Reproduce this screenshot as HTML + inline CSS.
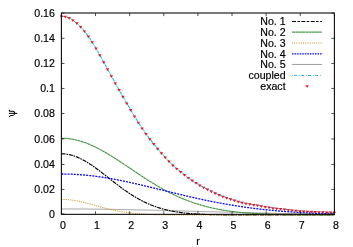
<!DOCTYPE html><html><head><meta charset="utf-8"><style>html,body{margin:0;padding:0;background:#fff}svg{display:block}text{font-family:"Liberation Sans",sans-serif;font-size:10.6px;fill:#000;stroke:#000;stroke-width:0.18px}svg{will-change:transform}</style></head><body>
<svg width="353" height="247" viewBox="0 0 353 247">
<rect width="353" height="247" fill="#fff"/>
<path d="M61.40,208.95 L62.08,208.95 L62.77,208.95 L63.45,208.95 L64.14,208.95 L64.82,208.95 L65.51,208.96 L66.19,208.96 L66.87,208.96 L67.56,208.96 L68.24,208.96 L68.93,208.96 L69.61,208.96 L70.29,208.97 L70.98,208.97 L71.66,208.97 L72.35,208.97 L73.03,208.98 L73.72,208.98 L74.40,208.98 L75.08,208.98 L75.77,208.99 L76.45,208.99 L77.14,208.99 L77.82,209.00 L78.51,209.00 L79.19,209.00 L79.87,209.01 L80.56,209.01 L81.24,209.02 L81.93,209.02 L82.61,209.03 L83.29,209.03 L83.98,209.04 L84.66,209.04 L85.35,209.05 L86.03,209.05 L86.72,209.06 L87.40,209.06 L88.08,209.07 L88.77,209.08 L89.45,209.08 L90.14,209.09 L90.82,209.09 L91.51,209.10 L92.19,209.11 L92.87,209.12 L93.56,209.12 L94.24,209.13 L94.93,209.14 L95.61,209.14 L96.29,209.15 L96.98,209.16 L97.66,209.17 L98.35,209.18 L99.03,209.18 L99.72,209.19 L100.40,209.20 L101.08,209.21 L101.77,209.22 L102.45,209.23 L103.14,209.24 L103.82,209.24 L104.51,209.25 L105.19,209.26 L105.87,209.27 L106.56,209.28 L107.24,209.29 L107.93,209.30 L108.61,209.31 L109.29,209.32 L109.98,209.33 L110.66,209.34 L111.35,209.35 L112.03,209.36 L112.72,209.37 L113.40,209.39 L114.08,209.40 L114.77,209.41 L115.45,209.42 L116.14,209.43 L116.82,209.44 L117.51,209.45 L118.19,209.47 L118.87,209.48 L119.56,209.49 L120.24,209.50 L120.93,209.51 L121.61,209.53 L122.29,209.54 L122.98,209.55 L123.66,209.56 L124.35,209.58 L125.03,209.59 L125.72,209.60 L126.40,209.62 L127.08,209.63 L127.77,209.64 L128.45,209.66 L129.14,209.67 L129.82,209.68 L130.51,209.70 L131.19,209.71 L131.87,209.72 L132.56,209.74 L133.24,209.75 L133.93,209.77 L134.61,209.78 L135.29,209.80 L135.98,209.81 L136.66,209.82 L137.35,209.84 L138.03,209.85 L138.72,209.87 L139.40,209.88 L140.08,209.90 L140.77,209.91 L141.45,209.93 L142.14,209.94 L142.82,209.96 L143.51,209.98 L144.19,209.99 L144.87,210.01 L145.56,210.02 L146.24,210.04 L146.93,210.05 L147.61,210.07 L148.29,210.09 L148.98,210.10 L149.66,210.12 L150.35,210.13 L151.03,210.15 L151.72,210.17 L152.40,210.18 L153.08,210.20 L153.77,210.22 L154.45,210.23 L155.14,210.25 L155.82,210.27 L156.51,210.28 L157.19,210.30 L157.87,210.32 L158.56,210.33 L159.24,210.35 L159.93,210.37 L160.61,210.39 L161.29,210.40 L161.98,210.42 L162.66,210.44 L163.35,210.46 L164.03,210.47 L164.72,210.49 L165.40,210.51 L166.08,210.53 L166.77,210.54 L167.45,210.56 L168.14,210.58 L168.82,210.60 L169.51,210.61 L170.19,210.63 L170.87,210.65 L171.56,210.67 L172.24,210.69 L172.93,210.70 L173.61,210.72 L174.29,210.74 L174.98,210.76 L175.66,210.78 L176.35,210.79 L177.03,210.81 L177.72,210.83 L178.40,210.85 L179.08,210.87 L179.77,210.89 L180.45,210.90 L181.14,210.92 L181.82,210.94 L182.51,210.96 L183.19,210.98 L183.87,211.00 L184.56,211.01 L185.24,211.03 L185.93,211.05 L186.61,211.07 L187.29,211.09 L187.98,211.11 L188.66,211.12 L189.35,211.14 L190.03,211.16 L190.72,211.18 L191.40,211.20 L192.08,211.22 L192.77,211.24 L193.45,211.25 L194.14,211.27 L194.82,211.29 L195.51,211.31 L196.19,211.33 L196.87,211.35 L197.56,211.37 L198.24,211.39 L198.93,211.40 L199.61,211.42 L200.29,211.44 L200.98,211.46 L201.66,211.48 L202.35,211.50 L203.03,211.52 L203.72,211.53 L204.40,211.55 L205.08,211.57 L205.77,211.59 L206.45,211.61 L207.14,211.63 L207.82,211.64 L208.51,211.66 L209.19,211.68 L209.87,211.70 L210.56,211.72 L211.24,211.74 L211.93,211.76 L212.61,211.77 L213.29,211.79 L213.98,211.81 L214.66,211.83 L215.35,211.85 L216.03,211.87 L216.72,211.88 L217.40,211.90 L218.08,211.92 L218.77,211.94 L219.45,211.96 L220.14,211.97 L220.82,211.99 L221.51,212.01 L222.19,212.03 L222.87,212.05 L223.56,212.06 L224.24,212.08 L224.93,212.10 L225.61,212.12 L226.29,212.14 L226.98,212.15 L227.66,212.17 L228.35,212.19 L229.03,212.21 L229.72,212.22 L230.40,212.24 L231.08,212.26 L231.77,212.28 L232.45,212.29 L233.14,212.31 L233.82,212.33 L234.51,212.35 L235.19,212.36 L235.87,212.38 L236.56,212.40 L237.24,212.41 L237.93,212.43 L238.61,212.45 L239.29,212.47 L239.98,212.48 L240.66,212.50 L241.35,212.52 L242.03,212.53 L242.72,212.55 L243.40,212.57 L244.08,212.58 L244.77,212.60 L245.45,212.62 L246.14,212.63 L246.82,212.65 L247.51,212.67 L248.19,212.68 L248.87,212.70 L249.56,212.71 L250.24,212.73 L250.93,212.75 L251.61,212.76 L252.29,212.78 L252.98,212.79 L253.66,212.81 L254.35,212.83 L255.03,212.84 L255.72,212.86 L256.40,212.87 L257.08,212.89 L257.77,212.90 L258.45,212.92 L259.14,212.93 L259.82,212.95 L260.51,212.97 L261.19,212.98 L261.87,213.00 L262.56,213.01 L263.24,213.03 L263.93,213.04 L264.61,213.06 L265.29,213.07 L265.98,213.09 L266.66,213.10 L267.35,213.11 L268.03,213.13 L268.72,213.14 L269.40,213.16 L270.08,213.17 L270.77,213.19 L271.45,213.20 L272.14,213.22 L272.82,213.23 L273.51,213.24 L274.19,213.26 L274.87,213.27 L275.56,213.29 L276.24,213.30 L276.93,213.31 L277.61,213.33 L278.29,213.34 L278.98,213.35 L279.66,213.37 L280.35,213.38 L281.03,213.39 L281.72,213.41 L282.40,213.42 L283.08,213.43 L283.77,213.45 L284.45,213.46 L285.14,213.47 L285.82,213.48 L286.51,213.50 L287.19,213.51 L287.87,213.52 L288.56,213.54 L289.24,213.55 L289.93,213.56 L290.61,213.57 L291.29,213.58 L291.98,213.60 L292.66,213.61 L293.35,213.62 L294.03,213.63 L294.72,213.65 L295.40,213.66 L296.08,213.67 L296.77,213.68 L297.45,213.69 L298.14,213.70 L298.82,213.72 L299.51,213.73 L300.19,213.74 L300.87,213.75 L301.56,213.76 L302.24,213.77 L302.93,213.78 L303.61,213.79 L304.29,213.80 L304.98,213.82 L305.66,213.83 L306.35,213.84 L307.03,213.85 L307.72,213.86 L308.40,213.87 L309.08,213.88 L309.77,213.89 L310.45,213.90 L311.14,213.91 L311.82,213.92 L312.51,213.93 L313.19,213.94 L313.87,213.95 L314.56,213.96 L315.24,213.97 L315.93,213.98 L316.61,213.99 L317.29,214.00 L317.98,214.01 L318.66,214.02 L319.35,214.03 L320.03,214.04 L320.72,214.05 L321.40,214.06 L322.08,214.07 L322.77,214.07 L323.45,214.08 L324.14,214.09 L324.82,214.10 L325.51,214.11 L326.19,214.12 L326.87,214.13 L327.56,214.14 L328.24,214.15 L328.93,214.15 L329.61,214.16 L330.29,214.17 L330.98,214.18 L331.66,214.19 L332.35,214.20 L333.03,214.20 L333.72,214.21 L334.40,214.22" fill="none" stroke="#8c8c8c" stroke-width="0.85" />
<path d="M61.40,153.79 L62.08,153.80 L62.77,153.82 L63.45,153.85 L64.14,153.90 L64.82,153.95 L65.51,154.03 L66.19,154.11 L66.87,154.21 L67.56,154.31 L68.24,154.44 L68.93,154.57 L69.61,154.72 L70.29,154.87 L70.98,155.04 L71.66,155.23 L72.35,155.42 L73.03,155.63 L73.72,155.85 L74.40,156.08 L75.08,156.32 L75.77,156.57 L76.45,156.84 L77.14,157.11 L77.82,157.40 L78.51,157.69 L79.19,158.00 L79.87,158.32 L80.56,158.65 L81.24,158.98 L81.93,159.33 L82.61,159.69 L83.29,160.05 L83.98,160.43 L84.66,160.81 L85.35,161.20 L86.03,161.60 L86.72,162.01 L87.40,162.43 L88.08,162.85 L88.77,163.29 L89.45,163.73 L90.14,164.17 L90.82,164.62 L91.51,165.08 L92.19,165.55 L92.87,166.02 L93.56,166.50 L94.24,166.98 L94.93,167.47 L95.61,167.96 L96.29,168.46 L96.98,168.96 L97.66,169.47 L98.35,169.98 L99.03,170.49 L99.72,171.01 L100.40,171.53 L101.08,172.05 L101.77,172.58 L102.45,173.11 L103.14,173.64 L103.82,174.17 L104.51,174.71 L105.19,175.24 L105.87,175.78 L106.56,176.32 L107.24,176.85 L107.93,177.39 L108.61,177.93 L109.29,178.47 L109.98,179.01 L110.66,179.55 L111.35,180.08 L112.03,180.62 L112.72,181.16 L113.40,181.69 L114.08,182.22 L114.77,182.75 L115.45,183.28 L116.14,183.81 L116.82,184.33 L117.51,184.85 L118.19,185.37 L118.87,185.89 L119.56,186.40 L120.24,186.91 L120.93,187.42 L121.61,187.93 L122.29,188.43 L122.98,188.92 L123.66,189.41 L124.35,189.90 L125.03,190.39 L125.72,190.87 L126.40,191.34 L127.08,191.81 L127.77,192.28 L128.45,192.74 L129.14,193.20 L129.82,193.65 L130.51,194.10 L131.19,194.54 L131.87,194.98 L132.56,195.41 L133.24,195.84 L133.93,196.26 L134.61,196.67 L135.29,197.08 L135.98,197.49 L136.66,197.89 L137.35,198.28 L138.03,198.67 L138.72,199.05 L139.40,199.43 L140.08,199.80 L140.77,200.17 L141.45,200.52 L142.14,200.88 L142.82,201.23 L143.51,201.57 L144.19,201.91 L144.87,202.24 L145.56,202.56 L146.24,202.88 L146.93,203.19 L147.61,203.50 L148.29,203.81 L148.98,204.10 L149.66,204.39 L150.35,204.68 L151.03,204.96 L151.72,205.23 L152.40,205.50 L153.08,205.76 L153.77,206.02 L154.45,206.28 L155.14,206.52 L155.82,206.76 L156.51,207.00 L157.19,207.23 L157.87,207.46 L158.56,207.68 L159.24,207.90 L159.93,208.11 L160.61,208.32 L161.29,208.52 L161.98,208.71 L162.66,208.91 L163.35,209.09 L164.03,209.28 L164.72,209.46 L165.40,209.63 L166.08,209.80 L166.77,209.97 L167.45,210.13 L168.14,210.28 L168.82,210.44 L169.51,210.59 L170.19,210.73 L170.87,210.87 L171.56,211.01 L172.24,211.14 L172.93,211.27 L173.61,211.40 L174.29,211.52 L174.98,211.64 L175.66,211.76 L176.35,211.87 L177.03,211.98 L177.72,212.08 L178.40,212.19 L179.08,212.29 L179.77,212.38 L180.45,212.48 L181.14,212.57 L181.82,212.66 L182.51,212.74 L183.19,212.82 L183.87,212.91 L184.56,212.98 L185.24,213.06 L185.93,213.13 L186.61,213.20 L187.29,213.27 L187.98,213.34 L188.66,213.40 L189.35,213.46 L190.03,213.52 L190.72,213.58 L191.40,213.63 L192.08,213.69 L192.77,213.74 L193.45,213.79 L194.14,213.84 L194.82,213.88 L195.51,213.93 L196.19,213.97 L196.87,214.01 L197.56,214.06 L198.24,214.09 L198.93,214.13 L199.61,214.17 L200.29,214.20 L200.98,214.24 L201.66,214.27 L202.35,214.30 L203.03,214.33 L203.72,214.36 L204.40,214.39 L205.08,214.41 L205.77,214.44 L206.45,214.46 L207.14,214.49 L207.82,214.51 L208.51,214.53 L209.19,214.55 L209.87,214.57 L210.56,214.59 L211.24,214.61 L211.93,214.63 L212.61,214.64 L213.29,214.66 L213.98,214.67 L214.66,214.69 L215.35,214.70 L216.03,214.72 L216.72,214.73 L217.40,214.74 L218.08,214.76 L218.77,214.77 L219.45,214.78 L220.14,214.79 L220.82,214.80 L221.51,214.81 L222.19,214.82 L222.87,214.83 L223.56,214.83 L224.24,214.84 L224.93,214.85 L225.61,214.86 L226.29,214.87 L226.98,214.87 L227.66,214.88 L228.35,214.88 L229.03,214.89 L229.72,214.90 L230.40,214.90 L231.08,214.91 L231.77,214.91 L232.45,214.92 L233.14,214.92 L233.82,214.92 L234.51,214.93 L235.19,214.93 L235.87,214.94 L236.56,214.94 L237.24,214.94 L237.93,214.94 L238.61,214.95 L239.29,214.95 L239.98,214.95 L240.66,214.96 L241.35,214.96 L242.03,214.96 L242.72,214.96 L243.40,214.96 L244.08,214.97 L244.77,214.97 L245.45,214.97 L246.14,214.97 L246.82,214.97 L247.51,214.97 L248.19,214.98 L248.87,214.98 L249.56,214.98 L250.24,214.98 L250.93,214.98 L251.61,214.98 L252.29,214.98 L252.98,214.98 L253.66,214.99 L254.35,214.99 L255.03,214.99 L255.72,214.99 L256.40,214.99 L257.08,214.99 L257.77,214.99 L258.45,214.99 L259.14,214.99 L259.82,214.99 L260.51,214.99 L261.19,214.99 L261.87,214.99 L262.56,214.99 L263.24,214.99 L263.93,214.99 L264.61,214.99 L265.29,214.99 L265.98,215.00 L266.66,215.00 L267.35,215.00 L268.03,215.00 L268.72,215.00 L269.40,215.00 L270.08,215.00 L270.77,215.00 L271.45,215.00 L272.14,215.00 L272.82,215.00 L273.51,215.00 L274.19,215.00 L274.87,215.00 L275.56,215.00 L276.24,215.00 L276.93,215.00 L277.61,215.00 L278.29,215.00 L278.98,215.00 L279.66,215.00 L280.35,215.00 L281.03,215.00 L281.72,215.00 L282.40,215.00 L283.08,215.00 L283.77,215.00 L284.45,215.00 L285.14,215.00 L285.82,215.00 L286.51,215.00 L287.19,215.00 L287.87,215.00 L288.56,215.00 L289.24,215.00 L289.93,215.00 L290.61,215.00 L291.29,215.00 L291.98,215.00 L292.66,215.00 L293.35,215.00 L294.03,215.00 L294.72,215.00 L295.40,215.00 L296.08,215.00 L296.77,215.00 L297.45,215.00 L298.14,215.00 L298.82,215.00 L299.51,215.00 L300.19,215.00 L300.87,215.00 L301.56,215.00 L302.24,215.00 L302.93,215.00 L303.61,215.00 L304.29,215.00 L304.98,215.00 L305.66,215.00 L306.35,215.00 L307.03,215.00 L307.72,215.00 L308.40,215.00 L309.08,215.00 L309.77,215.00 L310.45,215.00 L311.14,215.00 L311.82,215.00 L312.51,215.00 L313.19,215.00 L313.87,215.00 L314.56,215.00 L315.24,215.00 L315.93,215.00 L316.61,215.00 L317.29,215.00 L317.98,215.00 L318.66,215.00 L319.35,215.00 L320.03,215.00 L320.72,215.00 L321.40,215.00 L322.08,215.00 L322.77,215.00 L323.45,215.00 L324.14,215.00 L324.82,215.00 L325.51,215.00 L326.19,215.00 L326.87,215.00 L327.56,215.00 L328.24,215.00 L328.93,215.00 L329.61,215.00 L330.29,215.00 L330.98,215.00 L331.66,215.00 L332.35,215.00 L333.03,215.00 L333.72,215.00 L334.40,215.00" fill="none" stroke="#000000" stroke-width="1.15" stroke-dasharray="4.2,0.8,1.6,0.8"/>
<path d="M61.40,138.30 L62.08,138.31 L62.77,138.32 L63.45,138.34 L64.14,138.36 L64.82,138.40 L65.51,138.44 L66.19,138.49 L66.87,138.54 L67.56,138.61 L68.24,138.68 L68.93,138.76 L69.61,138.85 L70.29,138.94 L70.98,139.04 L71.66,139.15 L72.35,139.26 L73.03,139.39 L73.72,139.52 L74.40,139.65 L75.08,139.80 L75.77,139.95 L76.45,140.11 L77.14,140.28 L77.82,140.45 L78.51,140.63 L79.19,140.81 L79.87,141.01 L80.56,141.21 L81.24,141.41 L81.93,141.63 L82.61,141.85 L83.29,142.07 L83.98,142.31 L84.66,142.55 L85.35,142.79 L86.03,143.05 L86.72,143.30 L87.40,143.57 L88.08,143.84 L88.77,144.11 L89.45,144.40 L90.14,144.68 L90.82,144.98 L91.51,145.28 L92.19,145.58 L92.87,145.89 L93.56,146.21 L94.24,146.53 L94.93,146.86 L95.61,147.19 L96.29,147.52 L96.98,147.87 L97.66,148.21 L98.35,148.56 L99.03,148.92 L99.72,149.28 L100.40,149.64 L101.08,150.01 L101.77,150.39 L102.45,150.76 L103.14,151.14 L103.82,151.53 L104.51,151.92 L105.19,152.31 L105.87,152.71 L106.56,153.11 L107.24,153.51 L107.93,153.92 L108.61,154.33 L109.29,154.75 L109.98,155.16 L110.66,155.58 L111.35,156.01 L112.03,156.43 L112.72,156.86 L113.40,157.29 L114.08,157.72 L114.77,158.16 L115.45,158.60 L116.14,159.04 L116.82,159.48 L117.51,159.92 L118.19,160.37 L118.87,160.82 L119.56,161.27 L120.24,161.72 L120.93,162.17 L121.61,162.62 L122.29,163.08 L122.98,163.53 L123.66,163.99 L124.35,164.45 L125.03,164.90 L125.72,165.36 L126.40,165.82 L127.08,166.28 L127.77,166.74 L128.45,167.21 L129.14,167.67 L129.82,168.13 L130.51,168.59 L131.19,169.05 L131.87,169.51 L132.56,169.98 L133.24,170.44 L133.93,170.90 L134.61,171.36 L135.29,171.82 L135.98,172.28 L136.66,172.73 L137.35,173.19 L138.03,173.65 L138.72,174.10 L139.40,174.56 L140.08,175.01 L140.77,175.46 L141.45,175.92 L142.14,176.36 L142.82,176.81 L143.51,177.26 L144.19,177.71 L144.87,178.15 L145.56,178.59 L146.24,179.03 L146.93,179.47 L147.61,179.91 L148.29,180.34 L148.98,180.77 L149.66,181.20 L150.35,181.63 L151.03,182.06 L151.72,182.48 L152.40,182.90 L153.08,183.32 L153.77,183.74 L154.45,184.15 L155.14,184.57 L155.82,184.98 L156.51,185.38 L157.19,185.79 L157.87,186.19 L158.56,186.59 L159.24,186.98 L159.93,187.38 L160.61,187.77 L161.29,188.15 L161.98,188.54 L162.66,188.92 L163.35,189.30 L164.03,189.67 L164.72,190.05 L165.40,190.42 L166.08,190.78 L166.77,191.15 L167.45,191.51 L168.14,191.86 L168.82,192.22 L169.51,192.57 L170.19,192.92 L170.87,193.26 L171.56,193.60 L172.24,193.94 L172.93,194.27 L173.61,194.60 L174.29,194.93 L174.98,195.26 L175.66,195.58 L176.35,195.90 L177.03,196.21 L177.72,196.52 L178.40,196.83 L179.08,197.13 L179.77,197.43 L180.45,197.73 L181.14,198.03 L181.82,198.32 L182.51,198.60 L183.19,198.89 L183.87,199.17 L184.56,199.45 L185.24,199.72 L185.93,199.99 L186.61,200.26 L187.29,200.52 L187.98,200.78 L188.66,201.04 L189.35,201.29 L190.03,201.55 L190.72,201.79 L191.40,202.04 L192.08,202.28 L192.77,202.52 L193.45,202.75 L194.14,202.98 L194.82,203.21 L195.51,203.43 L196.19,203.66 L196.87,203.87 L197.56,204.09 L198.24,204.30 L198.93,204.51 L199.61,204.72 L200.29,204.92 L200.98,205.12 L201.66,205.32 L202.35,205.51 L203.03,205.70 L203.72,205.89 L204.40,206.08 L205.08,206.26 L205.77,206.44 L206.45,206.61 L207.14,206.79 L207.82,206.96 L208.51,207.13 L209.19,207.29 L209.87,207.45 L210.56,207.61 L211.24,207.77 L211.93,207.93 L212.61,208.08 L213.29,208.23 L213.98,208.37 L214.66,208.52 L215.35,208.66 L216.03,208.80 L216.72,208.94 L217.40,209.07 L218.08,209.20 L218.77,209.33 L219.45,209.46 L220.14,209.58 L220.82,209.71 L221.51,209.83 L222.19,209.95 L222.87,210.06 L223.56,210.18 L224.24,210.29 L224.93,210.40 L225.61,210.50 L226.29,210.61 L226.98,210.71 L227.66,210.81 L228.35,210.91 L229.03,211.01 L229.72,211.10 L230.40,211.20 L231.08,211.29 L231.77,211.38 L232.45,211.47 L233.14,211.55 L233.82,211.64 L234.51,211.72 L235.19,211.80 L235.87,211.88 L236.56,211.96 L237.24,212.03 L237.93,212.11 L238.61,212.18 L239.29,212.25 L239.98,212.32 L240.66,212.39 L241.35,212.46 L242.03,212.52 L242.72,212.59 L243.40,212.65 L244.08,212.71 L244.77,212.77 L245.45,212.83 L246.14,212.88 L246.82,212.94 L247.51,212.99 L248.19,213.05 L248.87,213.10 L249.56,213.15 L250.24,213.20 L250.93,213.25 L251.61,213.29 L252.29,213.34 L252.98,213.39 L253.66,213.43 L254.35,213.47 L255.03,213.51 L255.72,213.56 L256.40,213.60 L257.08,213.63 L257.77,213.67 L258.45,213.71 L259.14,213.75 L259.82,213.78 L260.51,213.82 L261.19,213.85 L261.87,213.88 L262.56,213.91 L263.24,213.94 L263.93,213.97 L264.61,214.00 L265.29,214.03 L265.98,214.06 L266.66,214.09 L267.35,214.11 L268.03,214.14 L268.72,214.17 L269.40,214.19 L270.08,214.21 L270.77,214.24 L271.45,214.26 L272.14,214.28 L272.82,214.30 L273.51,214.32 L274.19,214.35 L274.87,214.36 L275.56,214.38 L276.24,214.40 L276.93,214.42 L277.61,214.44 L278.29,214.46 L278.98,214.47 L279.66,214.49 L280.35,214.50 L281.03,214.52 L281.72,214.54 L282.40,214.55 L283.08,214.56 L283.77,214.58 L284.45,214.59 L285.14,214.60 L285.82,214.62 L286.51,214.63 L287.19,214.64 L287.87,214.65 L288.56,214.66 L289.24,214.67 L289.93,214.68 L290.61,214.69 L291.29,214.70 L291.98,214.71 L292.66,214.72 L293.35,214.73 L294.03,214.74 L294.72,214.75 L295.40,214.76 L296.08,214.77 L296.77,214.77 L297.45,214.78 L298.14,214.79 L298.82,214.80 L299.51,214.80 L300.19,214.81 L300.87,214.82 L301.56,214.82 L302.24,214.83 L302.93,214.83 L303.61,214.84 L304.29,214.85 L304.98,214.85 L305.66,214.86 L306.35,214.86 L307.03,214.87 L307.72,214.87 L308.40,214.87 L309.08,214.88 L309.77,214.88 L310.45,214.89 L311.14,214.89 L311.82,214.90 L312.51,214.90 L313.19,214.90 L313.87,214.91 L314.56,214.91 L315.24,214.91 L315.93,214.92 L316.61,214.92 L317.29,214.92 L317.98,214.92 L318.66,214.93 L319.35,214.93 L320.03,214.93 L320.72,214.94 L321.40,214.94 L322.08,214.94 L322.77,214.94 L323.45,214.94 L324.14,214.95 L324.82,214.95 L325.51,214.95 L326.19,214.95 L326.87,214.95 L327.56,214.96 L328.24,214.96 L328.93,214.96 L329.61,214.96 L330.29,214.96 L330.98,214.96 L331.66,214.96 L332.35,214.97 L333.03,214.97 L333.72,214.97 L334.40,214.97" fill="none" stroke="#479a47" stroke-width="1.15" stroke-dasharray="3,0.3"/>
<path d="M61.40,199.40 L62.08,199.40 L62.77,199.41 L63.45,199.42 L64.14,199.45 L64.82,199.47 L65.51,199.51 L66.19,199.55 L66.87,199.59 L67.56,199.65 L68.24,199.71 L68.93,199.77 L69.61,199.84 L70.29,199.92 L70.98,200.00 L71.66,200.09 L72.35,200.18 L73.03,200.28 L73.72,200.38 L74.40,200.49 L75.08,200.60 L75.77,200.72 L76.45,200.84 L77.14,200.97 L77.82,201.10 L78.51,201.24 L79.19,201.38 L79.87,201.52 L80.56,201.67 L81.24,201.82 L81.93,201.98 L82.61,202.14 L83.29,202.30 L83.98,202.46 L84.66,202.63 L85.35,202.80 L86.03,202.97 L86.72,203.15 L87.40,203.33 L88.08,203.51 L88.77,203.69 L89.45,203.87 L90.14,204.05 L90.82,204.24 L91.51,204.43 L92.19,204.61 L92.87,204.80 L93.56,204.99 L94.24,205.18 L94.93,205.37 L95.61,205.56 L96.29,205.75 L96.98,205.94 L97.66,206.13 L98.35,206.32 L99.03,206.50 L99.72,206.69 L100.40,206.88 L101.08,207.06 L101.77,207.25 L102.45,207.43 L103.14,207.61 L103.82,207.79 L104.51,207.97 L105.19,208.15 L105.87,208.33 L106.56,208.50 L107.24,208.67 L107.93,208.84 L108.61,209.01 L109.29,209.17 L109.98,209.34 L110.66,209.50 L111.35,209.65 L112.03,209.81 L112.72,209.96 L113.40,210.11 L114.08,210.26 L114.77,210.41 L115.45,210.55 L116.14,210.69 L116.82,210.83 L117.51,210.96 L118.19,211.09 L118.87,211.22 L119.56,211.35 L120.24,211.47 L120.93,211.59 L121.61,211.71 L122.29,211.82 L122.98,211.94 L123.66,212.05 L124.35,212.15 L125.03,212.26 L125.72,212.36 L126.40,212.46 L127.08,212.55 L127.77,212.65 L128.45,212.74 L129.14,212.82 L129.82,212.91 L130.51,212.99 L131.19,213.07 L131.87,213.15 L132.56,213.23 L133.24,213.30 L133.93,213.37 L134.61,213.44 L135.29,213.50 L135.98,213.57 L136.66,213.63 L137.35,213.69 L138.03,213.75 L138.72,213.80 L139.40,213.86 L140.08,213.91 L140.77,213.96 L141.45,214.00 L142.14,214.05 L142.82,214.09 L143.51,214.14 L144.19,214.18 L144.87,214.22 L145.56,214.25 L146.24,214.29 L146.93,214.33 L147.61,214.36 L148.29,214.39 L148.98,214.42 L149.66,214.45 L150.35,214.48 L151.03,214.50 L151.72,214.53 L152.40,214.55 L153.08,214.58 L153.77,214.60 L154.45,214.62 L155.14,214.64 L155.82,214.66 L156.51,214.68 L157.19,214.70 L157.87,214.71 L158.56,214.73 L159.24,214.74 L159.93,214.76 L160.61,214.77 L161.29,214.78 L161.98,214.80 L162.66,214.81 L163.35,214.82 L164.03,214.83 L164.72,214.84 L165.40,214.85 L166.08,214.86 L166.77,214.87 L167.45,214.88 L168.14,214.88 L168.82,214.89 L169.51,214.90 L170.19,214.90 L170.87,214.91 L171.56,214.91 L172.24,214.92 L172.93,214.93 L173.61,214.93 L174.29,214.93 L174.98,214.94 L175.66,214.94 L176.35,214.95 L177.03,214.95 L177.72,214.95 L178.40,214.96 L179.08,214.96 L179.77,214.96 L180.45,214.96 L181.14,214.97 L181.82,214.97 L182.51,214.97 L183.19,214.97 L183.87,214.98 L184.56,214.98 L185.24,214.98 L185.93,214.98 L186.61,214.98 L187.29,214.98 L187.98,214.98 L188.66,214.99 L189.35,214.99 L190.03,214.99 L190.72,214.99 L191.40,214.99 L192.08,214.99 L192.77,214.99 L193.45,214.99 L194.14,214.99 L194.82,214.99 L195.51,214.99 L196.19,214.99 L196.87,214.99 L197.56,214.99 L198.24,214.99 L198.93,215.00 L199.61,215.00 L200.29,215.00 L200.98,215.00 L201.66,215.00 L202.35,215.00 L203.03,215.00 L203.72,215.00 L204.40,215.00 L205.08,215.00 L205.77,215.00 L206.45,215.00 L207.14,215.00 L207.82,215.00 L208.51,215.00 L209.19,215.00 L209.87,215.00 L210.56,215.00 L211.24,215.00 L211.93,215.00 L212.61,215.00 L213.29,215.00 L213.98,215.00 L214.66,215.00 L215.35,215.00 L216.03,215.00 L216.72,215.00 L217.40,215.00 L218.08,215.00 L218.77,215.00 L219.45,215.00 L220.14,215.00 L220.82,215.00 L221.51,215.00 L222.19,215.00 L222.87,215.00 L223.56,215.00 L224.24,215.00 L224.93,215.00 L225.61,215.00 L226.29,215.00 L226.98,215.00 L227.66,215.00 L228.35,215.00 L229.03,215.00 L229.72,215.00 L230.40,215.00 L231.08,215.00 L231.77,215.00 L232.45,215.00 L233.14,215.00 L233.82,215.00 L234.51,215.00 L235.19,215.00 L235.87,215.00 L236.56,215.00 L237.24,215.00 L237.93,215.00 L238.61,215.00 L239.29,215.00 L239.98,215.00 L240.66,215.00 L241.35,215.00 L242.03,215.00 L242.72,215.00 L243.40,215.00 L244.08,215.00 L244.77,215.00 L245.45,215.00 L246.14,215.00 L246.82,215.00 L247.51,215.00 L248.19,215.00 L248.87,215.00 L249.56,215.00 L250.24,215.00 L250.93,215.00 L251.61,215.00 L252.29,215.00 L252.98,215.00 L253.66,215.00 L254.35,215.00 L255.03,215.00 L255.72,215.00 L256.40,215.00 L257.08,215.00 L257.77,215.00 L258.45,215.00 L259.14,215.00 L259.82,215.00 L260.51,215.00 L261.19,215.00 L261.87,215.00 L262.56,215.00 L263.24,215.00 L263.93,215.00 L264.61,215.00 L265.29,215.00 L265.98,215.00 L266.66,215.00 L267.35,215.00 L268.03,215.00 L268.72,215.00 L269.40,215.00 L270.08,215.00 L270.77,215.00 L271.45,215.00 L272.14,215.00 L272.82,215.00 L273.51,215.00 L274.19,215.00 L274.87,215.00 L275.56,215.00 L276.24,215.00 L276.93,215.00 L277.61,215.00 L278.29,215.00 L278.98,215.00 L279.66,215.00 L280.35,215.00 L281.03,215.00 L281.72,215.00 L282.40,215.00 L283.08,215.00 L283.77,215.00 L284.45,215.00 L285.14,215.00 L285.82,215.00 L286.51,215.00 L287.19,215.00 L287.87,215.00 L288.56,215.00 L289.24,215.00 L289.93,215.00 L290.61,215.00 L291.29,215.00 L291.98,215.00 L292.66,215.00 L293.35,215.00 L294.03,215.00 L294.72,215.00 L295.40,215.00 L296.08,215.00 L296.77,215.00 L297.45,215.00 L298.14,215.00 L298.82,215.00 L299.51,215.00 L300.19,215.00 L300.87,215.00 L301.56,215.00 L302.24,215.00 L302.93,215.00 L303.61,215.00 L304.29,215.00 L304.98,215.00 L305.66,215.00 L306.35,215.00 L307.03,215.00 L307.72,215.00 L308.40,215.00 L309.08,215.00 L309.77,215.00 L310.45,215.00 L311.14,215.00 L311.82,215.00 L312.51,215.00 L313.19,215.00 L313.87,215.00 L314.56,215.00 L315.24,215.00 L315.93,215.00 L316.61,215.00 L317.29,215.00 L317.98,215.00 L318.66,215.00 L319.35,215.00 L320.03,215.00 L320.72,215.00 L321.40,215.00 L322.08,215.00 L322.77,215.00 L323.45,215.00 L324.14,215.00 L324.82,215.00 L325.51,215.00 L326.19,215.00 L326.87,215.00 L327.56,215.00 L328.24,215.00 L328.93,215.00 L329.61,215.00 L330.29,215.00 L330.98,215.00 L331.66,215.00 L332.35,215.00 L333.03,215.00 L333.72,215.00 L334.40,215.00" fill="none" stroke="#c9921e" stroke-width="1.05" stroke-dasharray="1.0,1.2"/>
<path d="M61.40,173.99 L62.08,173.99 L62.77,174.00 L63.45,174.00 L64.14,174.01 L64.82,174.02 L65.51,174.03 L66.19,174.04 L66.87,174.05 L67.56,174.07 L68.24,174.09 L68.93,174.11 L69.61,174.13 L70.29,174.15 L70.98,174.18 L71.66,174.21 L72.35,174.23 L73.03,174.27 L73.72,174.30 L74.40,174.33 L75.08,174.37 L75.77,174.41 L76.45,174.45 L77.14,174.49 L77.82,174.53 L78.51,174.58 L79.19,174.63 L79.87,174.68 L80.56,174.73 L81.24,174.78 L81.93,174.83 L82.61,174.89 L83.29,174.95 L83.98,175.01 L84.66,175.07 L85.35,175.13 L86.03,175.20 L86.72,175.26 L87.40,175.33 L88.08,175.40 L88.77,175.48 L89.45,175.55 L90.14,175.62 L90.82,175.70 L91.51,175.78 L92.19,175.86 L92.87,175.94 L93.56,176.02 L94.24,176.11 L94.93,176.20 L95.61,176.28 L96.29,176.37 L96.98,176.47 L97.66,176.56 L98.35,176.65 L99.03,176.75 L99.72,176.85 L100.40,176.95 L101.08,177.05 L101.77,177.15 L102.45,177.25 L103.14,177.36 L103.82,177.46 L104.51,177.57 L105.19,177.68 L105.87,177.79 L106.56,177.90 L107.24,178.02 L107.93,178.13 L108.61,178.25 L109.29,178.36 L109.98,178.48 L110.66,178.60 L111.35,178.72 L112.03,178.85 L112.72,178.97 L113.40,179.09 L114.08,179.22 L114.77,179.35 L115.45,179.48 L116.14,179.61 L116.82,179.74 L117.51,179.87 L118.19,180.00 L118.87,180.14 L119.56,180.27 L120.24,180.41 L120.93,180.54 L121.61,180.68 L122.29,180.82 L122.98,180.96 L123.66,181.10 L124.35,181.25 L125.03,181.39 L125.72,181.53 L126.40,181.68 L127.08,181.82 L127.77,181.97 L128.45,182.12 L129.14,182.27 L129.82,182.42 L130.51,182.57 L131.19,182.72 L131.87,182.87 L132.56,183.02 L133.24,183.18 L133.93,183.33 L134.61,183.49 L135.29,183.64 L135.98,183.80 L136.66,183.95 L137.35,184.11 L138.03,184.27 L138.72,184.43 L139.40,184.59 L140.08,184.75 L140.77,184.91 L141.45,185.07 L142.14,185.23 L142.82,185.39 L143.51,185.55 L144.19,185.72 L144.87,185.88 L145.56,186.04 L146.24,186.21 L146.93,186.37 L147.61,186.54 L148.29,186.70 L148.98,186.87 L149.66,187.03 L150.35,187.20 L151.03,187.36 L151.72,187.53 L152.40,187.70 L153.08,187.87 L153.77,188.03 L154.45,188.20 L155.14,188.37 L155.82,188.54 L156.51,188.70 L157.19,188.87 L157.87,189.04 L158.56,189.21 L159.24,189.38 L159.93,189.55 L160.61,189.71 L161.29,189.88 L161.98,190.05 L162.66,190.22 L163.35,190.39 L164.03,190.56 L164.72,190.73 L165.40,190.89 L166.08,191.06 L166.77,191.23 L167.45,191.40 L168.14,191.57 L168.82,191.74 L169.51,191.90 L170.19,192.07 L170.87,192.24 L171.56,192.41 L172.24,192.57 L172.93,192.74 L173.61,192.91 L174.29,193.07 L174.98,193.24 L175.66,193.41 L176.35,193.57 L177.03,193.74 L177.72,193.90 L178.40,194.07 L179.08,194.23 L179.77,194.40 L180.45,194.56 L181.14,194.72 L181.82,194.89 L182.51,195.05 L183.19,195.21 L183.87,195.37 L184.56,195.53 L185.24,195.69 L185.93,195.86 L186.61,196.02 L187.29,196.17 L187.98,196.33 L188.66,196.49 L189.35,196.65 L190.03,196.81 L190.72,196.96 L191.40,197.12 L192.08,197.28 L192.77,197.43 L193.45,197.59 L194.14,197.74 L194.82,197.90 L195.51,198.05 L196.19,198.20 L196.87,198.35 L197.56,198.50 L198.24,198.65 L198.93,198.80 L199.61,198.95 L200.29,199.10 L200.98,199.25 L201.66,199.40 L202.35,199.55 L203.03,199.69 L203.72,199.84 L204.40,199.98 L205.08,200.13 L205.77,200.27 L206.45,200.41 L207.14,200.55 L207.82,200.69 L208.51,200.83 L209.19,200.97 L209.87,201.11 L210.56,201.25 L211.24,201.39 L211.93,201.53 L212.61,201.66 L213.29,201.80 L213.98,201.93 L214.66,202.07 L215.35,202.20 L216.03,202.33 L216.72,202.46 L217.40,202.59 L218.08,202.72 L218.77,202.85 L219.45,202.98 L220.14,203.11 L220.82,203.23 L221.51,203.36 L222.19,203.48 L222.87,203.61 L223.56,203.73 L224.24,203.85 L224.93,203.97 L225.61,204.10 L226.29,204.22 L226.98,204.33 L227.66,204.45 L228.35,204.57 L229.03,204.69 L229.72,204.80 L230.40,204.92 L231.08,205.03 L231.77,205.14 L232.45,205.26 L233.14,205.37 L233.82,205.48 L234.51,205.59 L235.19,205.70 L235.87,205.81 L236.56,205.91 L237.24,206.02 L237.93,206.13 L238.61,206.23 L239.29,206.34 L239.98,206.44 L240.66,206.54 L241.35,206.64 L242.03,206.74 L242.72,206.84 L243.40,206.94 L244.08,207.04 L244.77,207.14 L245.45,207.23 L246.14,207.33 L246.82,207.42 L247.51,207.52 L248.19,207.61 L248.87,207.70 L249.56,207.80 L250.24,207.89 L250.93,207.98 L251.61,208.06 L252.29,208.15 L252.98,208.24 L253.66,208.33 L254.35,208.41 L255.03,208.50 L255.72,208.58 L256.40,208.67 L257.08,208.75 L257.77,208.83 L258.45,208.91 L259.14,208.99 L259.82,209.07 L260.51,209.15 L261.19,209.23 L261.87,209.30 L262.56,209.38 L263.24,209.46 L263.93,209.53 L264.61,209.61 L265.29,209.68 L265.98,209.75 L266.66,209.82 L267.35,209.89 L268.03,209.96 L268.72,210.03 L269.40,210.10 L270.08,210.17 L270.77,210.24 L271.45,210.31 L272.14,210.37 L272.82,210.44 L273.51,210.50 L274.19,210.56 L274.87,210.63 L275.56,210.69 L276.24,210.75 L276.93,210.81 L277.61,210.87 L278.29,210.93 L278.98,210.99 L279.66,211.05 L280.35,211.11 L281.03,211.16 L281.72,211.22 L282.40,211.28 L283.08,211.33 L283.77,211.39 L284.45,211.44 L285.14,211.49 L285.82,211.54 L286.51,211.60 L287.19,211.65 L287.87,211.70 L288.56,211.75 L289.24,211.80 L289.93,211.85 L290.61,211.89 L291.29,211.94 L291.98,211.99 L292.66,212.04 L293.35,212.08 L294.03,212.13 L294.72,212.17 L295.40,212.22 L296.08,212.26 L296.77,212.30 L297.45,212.34 L298.14,212.39 L298.82,212.43 L299.51,212.47 L300.19,212.51 L300.87,212.55 L301.56,212.59 L302.24,212.63 L302.93,212.66 L303.61,212.70 L304.29,212.74 L304.98,212.78 L305.66,212.81 L306.35,212.85 L307.03,212.88 L307.72,212.92 L308.40,212.95 L309.08,212.99 L309.77,213.02 L310.45,213.05 L311.14,213.08 L311.82,213.12 L312.51,213.15 L313.19,213.18 L313.87,213.21 L314.56,213.24 L315.24,213.27 L315.93,213.30 L316.61,213.33 L317.29,213.36 L317.98,213.38 L318.66,213.41 L319.35,213.44 L320.03,213.47 L320.72,213.49 L321.40,213.52 L322.08,213.54 L322.77,213.57 L323.45,213.59 L324.14,213.62 L324.82,213.64 L325.51,213.67 L326.19,213.69 L326.87,213.71 L327.56,213.74 L328.24,213.76 L328.93,213.78 L329.61,213.80 L330.29,213.82 L330.98,213.85 L331.66,213.87 L332.35,213.89 L333.03,213.91 L333.72,213.93 L334.40,213.95" fill="none" stroke="#0a0aff" stroke-width="1.3" stroke-dasharray="2.0,1.1"/>
<path d="M61.40,16.34 L62.08,16.36 L62.77,16.38 L63.45,16.40 L64.14,16.42 L64.82,16.45 L65.51,16.55 L66.19,16.80 L66.87,17.05 L67.56,17.29 L68.24,17.54 L68.93,17.78 L69.61,18.15 L70.29,18.56 L70.98,18.97 L71.66,19.37 L72.35,19.78 L73.03,20.21 L73.72,20.73 L74.40,21.26 L75.08,21.78 L75.77,22.30 L76.45,22.83 L77.14,23.42 L77.82,24.08 L78.51,24.74 L79.19,25.40 L79.87,26.06 L80.56,26.72 L81.24,27.48 L81.93,28.26 L82.61,29.03 L83.29,29.81 L83.98,30.59 L84.66,31.40 L85.35,32.30 L86.03,33.20 L86.72,34.09 L87.40,34.99 L88.08,35.89 L88.77,36.88 L89.45,37.91 L90.14,38.95 L90.82,39.98 L91.51,41.01 L92.19,42.05 L92.87,43.17 L93.56,44.29 L94.24,45.41 L94.93,46.54 L95.61,47.66 L96.29,48.81 L96.98,50.01 L97.66,51.20 L98.35,52.40 L99.03,53.59 L99.72,54.79 L100.40,56.02 L101.08,57.28 L101.77,58.53 L102.45,59.78 L103.14,61.03 L103.82,62.28 L104.51,63.52 L105.19,64.77 L105.87,66.01 L106.56,67.26 L107.24,68.50 L107.93,69.74 L108.61,70.97 L109.29,72.21 L109.98,73.44 L110.66,74.68 L111.35,75.91 L112.03,77.15 L112.72,78.39 L113.40,79.63 L114.08,80.87 L114.77,82.11 L115.45,83.34 L116.14,84.56 L116.82,85.79 L117.51,87.01 L118.19,88.23 L118.87,89.45 L119.56,90.66 L120.24,91.86 L120.93,93.06 L121.61,94.26 L122.29,95.46 L122.98,96.66 L123.66,97.85 L124.35,99.04 L125.03,100.23 L125.72,101.42 L126.40,102.61 L127.08,103.79 L127.77,104.95 L128.45,106.12 L129.14,107.29 L129.82,108.45 L130.51,109.62 L131.19,110.76 L131.87,111.89 L132.56,113.03 L133.24,114.16 L133.93,115.29 L134.61,116.42 L135.29,117.53 L135.98,118.63 L136.66,119.74 L137.35,120.84 L138.03,121.95 L138.72,123.02 L139.40,124.08 L140.08,125.13 L140.77,126.19 L141.45,127.24 L142.14,128.30 L142.82,129.27 L143.51,130.24 L144.19,131.21 L144.87,132.18 L145.56,133.16 L146.24,134.11 L146.93,135.02 L147.61,135.94 L148.29,136.85 L148.98,137.77 L149.66,138.69 L150.35,139.57 L151.03,140.44 L151.72,141.31 L152.40,142.18 L153.08,143.05 L153.77,143.92 L154.45,144.74 L155.14,145.56 L155.82,146.38 L156.51,147.20 L157.19,148.02 L157.87,148.83 L158.56,149.64 L159.24,150.44 L159.93,151.24 L160.61,152.05 L161.29,152.85 L161.98,153.63 L162.66,154.40 L163.35,155.17 L164.03,155.94 L164.72,156.71 L165.40,157.46 L166.08,158.18 L166.77,158.90 L167.45,159.63 L168.14,160.35 L168.82,161.07 L169.51,161.76 L170.19,162.44 L170.87,163.12 L171.56,163.80 L172.24,164.48 L172.93,165.16 L173.61,165.78 L174.29,166.39 L174.98,167.01 L175.66,167.62 L176.35,168.23 L177.03,168.82 L177.72,169.38 L178.40,169.93 L179.08,170.48 L179.77,171.03 L180.45,171.59 L181.14,172.13 L181.82,172.66 L182.51,173.20 L183.19,173.73 L183.87,174.27 L184.56,174.80 L185.24,175.32 L185.93,175.84 L186.61,176.36 L187.29,176.88 L187.98,177.40 L188.66,177.90 L189.35,178.38 L190.03,178.86 L190.72,179.34 L191.40,179.82 L192.08,180.30 L192.77,180.75 L193.45,181.19 L194.14,181.64 L194.82,182.09 L195.51,182.53 L196.19,182.97 L196.87,183.39 L197.56,183.81 L198.24,184.23 L198.93,184.65 L199.61,185.07 L200.29,185.46 L200.98,185.85 L201.66,186.23 L202.35,186.62 L203.03,187.00 L203.72,187.39 L204.40,187.74 L205.08,188.09 L205.77,188.44 L206.45,188.79 L207.14,189.14 L207.82,189.49 L208.51,189.81 L209.19,190.14 L209.87,190.47 L210.56,190.80 L211.24,191.13 L211.93,191.46 L212.61,191.78 L213.29,192.10 L213.98,192.43 L214.66,192.75 L215.35,193.07 L216.03,193.39 L216.72,193.70 L217.40,194.01 L218.08,194.32 L218.77,194.64 L219.45,194.93 L220.14,195.22 L220.82,195.50 L221.51,195.79 L222.19,196.07 L222.87,196.36 L223.56,196.61 L224.24,196.86 L224.93,197.11 L225.61,197.36 L226.29,197.61 L226.98,197.86 L227.66,198.09 L228.35,198.32 L229.03,198.54 L229.72,198.77 L230.40,199.00 L231.08,199.23 L231.77,199.45 L232.45,199.67 L233.14,199.90 L233.82,200.12 L234.51,200.34 L235.19,200.55 L235.87,200.77 L236.56,200.98 L237.24,201.19 L237.93,201.40 L238.61,201.60 L239.29,201.78 L239.98,201.96 L240.66,202.13 L241.35,202.31 L242.03,202.49 L242.72,202.65 L243.40,202.80 L244.08,202.95 L244.77,203.10 L245.45,203.25 L246.14,203.39 L246.82,203.52 L247.51,203.65 L248.19,203.78 L248.87,203.91 L249.56,204.04 L250.24,204.15 L250.93,204.26 L251.61,204.36 L252.29,204.47 L252.98,204.57 L253.66,204.68 L254.35,204.79 L255.03,204.90 L255.72,205.02 L256.40,205.13 L257.08,205.24 L257.77,205.36 L258.45,205.48 L259.14,205.60 L259.82,205.72 L260.51,205.85 L261.19,205.97 L261.87,206.09 L262.56,206.22 L263.24,206.34 L263.93,206.46 L264.61,206.58 L265.29,206.71 L265.98,206.82 L266.66,206.94 L267.35,207.06 L268.03,207.17 L268.72,207.29 L269.40,207.40 L270.08,207.50 L270.77,207.60 L271.45,207.70 L272.14,207.80 L272.82,207.90 L273.51,207.98 L274.19,208.06 L274.87,208.14 L275.56,208.22 L276.24,208.30 L276.93,208.37 L277.61,208.44 L278.29,208.50 L278.98,208.57 L279.66,208.64 L280.35,208.71 L281.03,208.78 L281.72,208.85 L282.40,208.92 L283.08,208.99 L283.77,209.07 L284.45,209.14 L285.14,209.22 L285.82,209.31 L286.51,209.39 L287.19,209.47 L287.87,209.56 L288.56,209.64 L289.24,209.73 L289.93,209.82 L290.61,209.91 L291.29,210.00 L291.98,210.09 L292.66,210.17 L293.35,210.25 L294.03,210.33 L294.72,210.41 L295.40,210.48 L296.08,210.56 L296.77,210.61 L297.45,210.67 L298.14,210.72 L298.82,210.78 L299.51,210.84 L300.19,210.89 L300.87,210.93 L301.56,210.98 L302.24,211.02 L302.93,211.06 L303.61,211.11 L304.29,211.15 L304.98,211.20 L305.66,211.24 L306.35,211.29 L307.03,211.33 L307.72,211.38 L308.40,211.41 L309.08,211.45 L309.77,211.49 L310.45,211.53 L311.14,211.57 L311.82,211.60 L312.51,211.63 L313.19,211.66 L313.87,211.69 L314.56,211.71 L315.24,211.74 L315.93,211.76 L316.61,211.79 L317.29,211.81 L317.98,211.83 L318.66,211.85 L319.35,211.87 L320.03,211.90 L320.72,211.92 L321.40,211.94 L322.08,211.96 L322.77,211.99 L323.45,212.01 L324.14,212.04 L324.82,212.07 L325.51,212.10 L326.19,212.13 L326.87,212.15 L327.56,212.18 L328.24,212.21 L328.93,212.24 L329.61,212.26 L330.29,212.29 L330.98,212.31 L331.66,212.32 L332.35,212.33 L333.03,212.34 L333.72,212.36 L334.40,212.37" fill="none" stroke="#14b4ff" stroke-width="1.05" stroke-dasharray="3.2,0.6,0.8,0.6"/>
<path d="M59.70,15.61 h3.4 l-1.7,2.7 z" fill="#ff1010"/>
<path d="M63.55,15.74 h3.4 l-1.7,2.7 z" fill="#ff1010"/>
<path d="M67.39,17.12 h3.4 l-1.7,2.7 z" fill="#ff1010"/>
<path d="M71.24,19.41 h3.4 l-1.7,2.7 z" fill="#ff1010"/>
<path d="M75.08,22.36 h3.4 l-1.7,2.7 z" fill="#ff1010"/>
<path d="M78.93,26.06 h3.4 l-1.7,2.7 z" fill="#ff1010"/>
<path d="M82.77,30.42 h3.4 l-1.7,2.7 z" fill="#ff1010"/>
<path d="M86.62,35.47 h3.4 l-1.7,2.7 z" fill="#ff1010"/>
<path d="M90.46,41.28 h3.4 l-1.7,2.7 z" fill="#ff1010"/>
<path d="M94.31,47.59 h3.4 l-1.7,2.7 z" fill="#ff1010"/>
<path d="M98.15,54.30 h3.4 l-1.7,2.7 z" fill="#ff1010"/>
<path d="M102.00,61.33 h3.4 l-1.7,2.7 z" fill="#ff1010"/>
<path d="M105.84,68.32 h3.4 l-1.7,2.7 z" fill="#ff1010"/>
<path d="M109.69,75.26 h3.4 l-1.7,2.7 z" fill="#ff1010"/>
<path d="M113.53,82.22 h3.4 l-1.7,2.7 z" fill="#ff1010"/>
<path d="M117.38,89.09 h3.4 l-1.7,2.7 z" fill="#ff1010"/>
<path d="M121.22,95.84 h3.4 l-1.7,2.7 z" fill="#ff1010"/>
<path d="M125.07,102.52 h3.4 l-1.7,2.7 z" fill="#ff1010"/>
<path d="M128.91,109.08 h3.4 l-1.7,2.7 z" fill="#ff1010"/>
<path d="M132.76,115.45 h3.4 l-1.7,2.7 z" fill="#ff1010"/>
<path d="M136.60,121.66 h3.4 l-1.7,2.7 z" fill="#ff1010"/>
<path d="M140.45,127.59 h3.4 l-1.7,2.7 z" fill="#ff1010"/>
<path d="M144.29,133.05 h3.4 l-1.7,2.7 z" fill="#ff1010"/>
<path d="M148.14,138.20 h3.4 l-1.7,2.7 z" fill="#ff1010"/>
<path d="M151.98,143.09 h3.4 l-1.7,2.7 z" fill="#ff1010"/>
<path d="M155.83,147.70 h3.4 l-1.7,2.7 z" fill="#ff1010"/>
<path d="M159.67,152.22 h3.4 l-1.7,2.7 z" fill="#ff1010"/>
<path d="M163.52,156.55 h3.4 l-1.7,2.7 z" fill="#ff1010"/>
<path d="M167.36,160.60 h3.4 l-1.7,2.7 z" fill="#ff1010"/>
<path d="M171.21,164.43 h3.4 l-1.7,2.7 z" fill="#ff1010"/>
<path d="M175.05,167.88 h3.4 l-1.7,2.7 z" fill="#ff1010"/>
<path d="M178.90,170.98 h3.4 l-1.7,2.7 z" fill="#ff1010"/>
<path d="M182.74,174.00 h3.4 l-1.7,2.7 z" fill="#ff1010"/>
<path d="M186.59,176.91 h3.4 l-1.7,2.7 z" fill="#ff1010"/>
<path d="M190.43,179.61 h3.4 l-1.7,2.7 z" fill="#ff1010"/>
<path d="M194.28,182.12 h3.4 l-1.7,2.7 z" fill="#ff1010"/>
<path d="M198.12,184.47 h3.4 l-1.7,2.7 z" fill="#ff1010"/>
<path d="M201.97,186.64 h3.4 l-1.7,2.7 z" fill="#ff1010"/>
<path d="M205.81,188.62 h3.4 l-1.7,2.7 z" fill="#ff1010"/>
<path d="M209.66,190.47 h3.4 l-1.7,2.7 z" fill="#ff1010"/>
<path d="M213.50,192.29 h3.4 l-1.7,2.7 z" fill="#ff1010"/>
<path d="M217.35,194.04 h3.4 l-1.7,2.7 z" fill="#ff1010"/>
<path d="M221.19,195.64 h3.4 l-1.7,2.7 z" fill="#ff1010"/>
<path d="M225.04,197.06 h3.4 l-1.7,2.7 z" fill="#ff1010"/>
<path d="M228.88,198.34 h3.4 l-1.7,2.7 z" fill="#ff1010"/>
<path d="M232.73,199.60 h3.4 l-1.7,2.7 z" fill="#ff1010"/>
<path d="M236.57,200.79 h3.4 l-1.7,2.7 z" fill="#ff1010"/>
<path d="M240.42,201.79 h3.4 l-1.7,2.7 z" fill="#ff1010"/>
<path d="M244.26,202.64 h3.4 l-1.7,2.7 z" fill="#ff1010"/>
<path d="M248.11,203.36 h3.4 l-1.7,2.7 z" fill="#ff1010"/>
<path d="M251.95,203.96 h3.4 l-1.7,2.7 z" fill="#ff1010"/>
<path d="M255.80,204.59 h3.4 l-1.7,2.7 z" fill="#ff1010"/>
<path d="M259.64,205.28 h3.4 l-1.7,2.7 z" fill="#ff1010"/>
<path d="M263.49,205.97 h3.4 l-1.7,2.7 z" fill="#ff1010"/>
<path d="M267.33,206.62 h3.4 l-1.7,2.7 z" fill="#ff1010"/>
<path d="M271.18,207.19 h3.4 l-1.7,2.7 z" fill="#ff1010"/>
<path d="M275.02,207.63 h3.4 l-1.7,2.7 z" fill="#ff1010"/>
<path d="M278.87,208.01 h3.4 l-1.7,2.7 z" fill="#ff1010"/>
<path d="M282.71,208.41 h3.4 l-1.7,2.7 z" fill="#ff1010"/>
<path d="M286.56,208.88 h3.4 l-1.7,2.7 z" fill="#ff1010"/>
<path d="M290.40,209.39 h3.4 l-1.7,2.7 z" fill="#ff1010"/>
<path d="M294.25,209.83 h3.4 l-1.7,2.7 z" fill="#ff1010"/>
<path d="M298.09,210.14 h3.4 l-1.7,2.7 z" fill="#ff1010"/>
<path d="M301.94,210.39 h3.4 l-1.7,2.7 z" fill="#ff1010"/>
<path d="M305.78,210.64 h3.4 l-1.7,2.7 z" fill="#ff1010"/>
<path d="M309.63,210.86 h3.4 l-1.7,2.7 z" fill="#ff1010"/>
<path d="M313.47,211.02 h3.4 l-1.7,2.7 z" fill="#ff1010"/>
<path d="M317.32,211.14 h3.4 l-1.7,2.7 z" fill="#ff1010"/>
<path d="M321.16,211.27 h3.4 l-1.7,2.7 z" fill="#ff1010"/>
<path d="M325.01,211.43 h3.4 l-1.7,2.7 z" fill="#ff1010"/>
<path d="M328.85,211.58 h3.4 l-1.7,2.7 z" fill="#ff1010"/>
<path d="M332.70,211.65 h3.4 l-1.7,2.7 z" fill="#ff1010"/>
<rect x="61.40" y="13.00" width="273.00" height="201.35" fill="none" stroke="#0c0c0c" stroke-width="1.1"/>
<path d="M61.40,214.35 v-3.1 M61.40,13.00 v3.1" stroke="#1a1a1a" stroke-width="0.75"/>
<text x="62.90" y="229.2" text-anchor="middle">0</text>
<path d="M95.53,214.35 v-3.1 M95.53,13.00 v3.1" stroke="#1a1a1a" stroke-width="0.75"/>
<text x="97.03" y="229.2" text-anchor="middle">1</text>
<path d="M129.65,214.35 v-3.1 M129.65,13.00 v3.1" stroke="#1a1a1a" stroke-width="0.75"/>
<text x="131.15" y="229.2" text-anchor="middle">2</text>
<path d="M163.78,214.35 v-3.1 M163.78,13.00 v3.1" stroke="#1a1a1a" stroke-width="0.75"/>
<text x="165.28" y="229.2" text-anchor="middle">3</text>
<path d="M197.90,214.35 v-3.1 M197.90,13.00 v3.1" stroke="#1a1a1a" stroke-width="0.75"/>
<text x="199.40" y="229.2" text-anchor="middle">4</text>
<path d="M232.03,214.35 v-3.1 M232.03,13.00 v3.1" stroke="#1a1a1a" stroke-width="0.75"/>
<text x="233.53" y="229.2" text-anchor="middle">5</text>
<path d="M266.15,214.35 v-3.1 M266.15,13.00 v3.1" stroke="#1a1a1a" stroke-width="0.75"/>
<text x="267.65" y="229.2" text-anchor="middle">6</text>
<path d="M300.27,214.35 v-3.1 M300.27,13.00 v3.1" stroke="#1a1a1a" stroke-width="0.75"/>
<text x="301.77" y="229.2" text-anchor="middle">7</text>
<path d="M334.40,214.35 v-3.1 M334.40,13.00 v3.1" stroke="#1a1a1a" stroke-width="0.75"/>
<text x="335.90" y="229.2" text-anchor="middle">8</text>
<path d="M61.40,213.90 h3.1 M334.40,213.90 h-3.1" stroke="#1a1a1a" stroke-width="0.75"/>
<text x="54.9" y="217.70" text-anchor="end">0</text>
<path d="M61.40,189.45 h3.1 M334.40,189.45 h-3.1" stroke="#1a1a1a" stroke-width="0.75"/>
<text x="54.9" y="193.25" text-anchor="end">0.02</text>
<path d="M61.40,164.45 h3.1 M334.40,164.45 h-3.1" stroke="#1a1a1a" stroke-width="0.75"/>
<text x="54.9" y="168.25" text-anchor="end">0.04</text>
<path d="M61.40,138.95 h3.1 M334.40,138.95 h-3.1" stroke="#1a1a1a" stroke-width="0.75"/>
<text x="54.9" y="142.75" text-anchor="end">0.06</text>
<path d="M61.40,113.50 h3.1 M334.40,113.50 h-3.1" stroke="#1a1a1a" stroke-width="0.75"/>
<text x="54.9" y="117.30" text-anchor="end">0.08</text>
<path d="M61.40,88.45 h3.1 M334.40,88.45 h-3.1" stroke="#1a1a1a" stroke-width="0.75"/>
<text x="54.9" y="92.25" text-anchor="end">0.1</text>
<path d="M61.40,63.45 h3.1 M334.40,63.45 h-3.1" stroke="#1a1a1a" stroke-width="0.75"/>
<text x="54.9" y="67.25" text-anchor="end">0.12</text>
<path d="M61.40,38.30 h3.1 M334.40,38.30 h-3.1" stroke="#1a1a1a" stroke-width="0.75"/>
<text x="54.9" y="42.10" text-anchor="end">0.14</text>
<path d="M61.40,13.00 h3.1 M334.40,13.00 h-3.1" stroke="#1a1a1a" stroke-width="0.75"/>
<text x="54.9" y="16.80" text-anchor="end">0.16</text>
<text x="198.0" y="245.2" text-anchor="middle">r</text>
<g fill="none" stroke="#000" stroke-width="1.0" stroke-linecap="round" stroke-linejoin="round"><path d="M9.3,110.3 L9.7,111.25 H13.3 Q14.5,111.5 14.7,113.3" stroke-width="1.15"/><path d="M9.3,113.35 H16.9"/><path d="M9.3,116.8 L10.0,115.7 L13.4,115.3 Q14.6,115.0 14.7,113.4"/></g>
<text x="285.6" y="25.20" text-anchor="end">No. 1</text>
<path d="M292,21.50 H322" fill="none" stroke="#000000" stroke-width="1.0" stroke-dasharray="4,1.4,2.4,1.6"/>
<text x="285.6" y="35.85" text-anchor="end">No. 2</text>
<path d="M292,32.15 H322" fill="none" stroke="#479a47" stroke-width="1.15" stroke-dasharray="3,0.3"/>
<text x="285.6" y="46.70" text-anchor="end">No. 3</text>
<path d="M292,43.00 H322" fill="none" stroke="#c9921e" stroke-width="1.05" stroke-dasharray="1.0,1.2"/>
<text x="285.6" y="57.50" text-anchor="end">No. 4</text>
<path d="M292,53.80 H322" fill="none" stroke="#0a0aff" stroke-width="1.15" stroke-dasharray="1.6,0.95"/>
<text x="285.6" y="68.15" text-anchor="end">No. 5</text>
<path d="M292,64.45 H322" fill="none" stroke="#8c8c8c" stroke-width="0.85" />
<text x="285.6" y="79.15" text-anchor="end">coupled</text>
<path d="M292.15,75.45 H321.2" fill="none" stroke="#0aaefc" stroke-width="0.95" stroke-dasharray="0.7,1.35,2.8,2.15"/>
<text x="285.6" y="89.70" text-anchor="end">exact</text>
<path d="M305.40,85.30 h3.4 l-1.7,2.7 z" fill="#ff1010"/>
</svg></body></html>
